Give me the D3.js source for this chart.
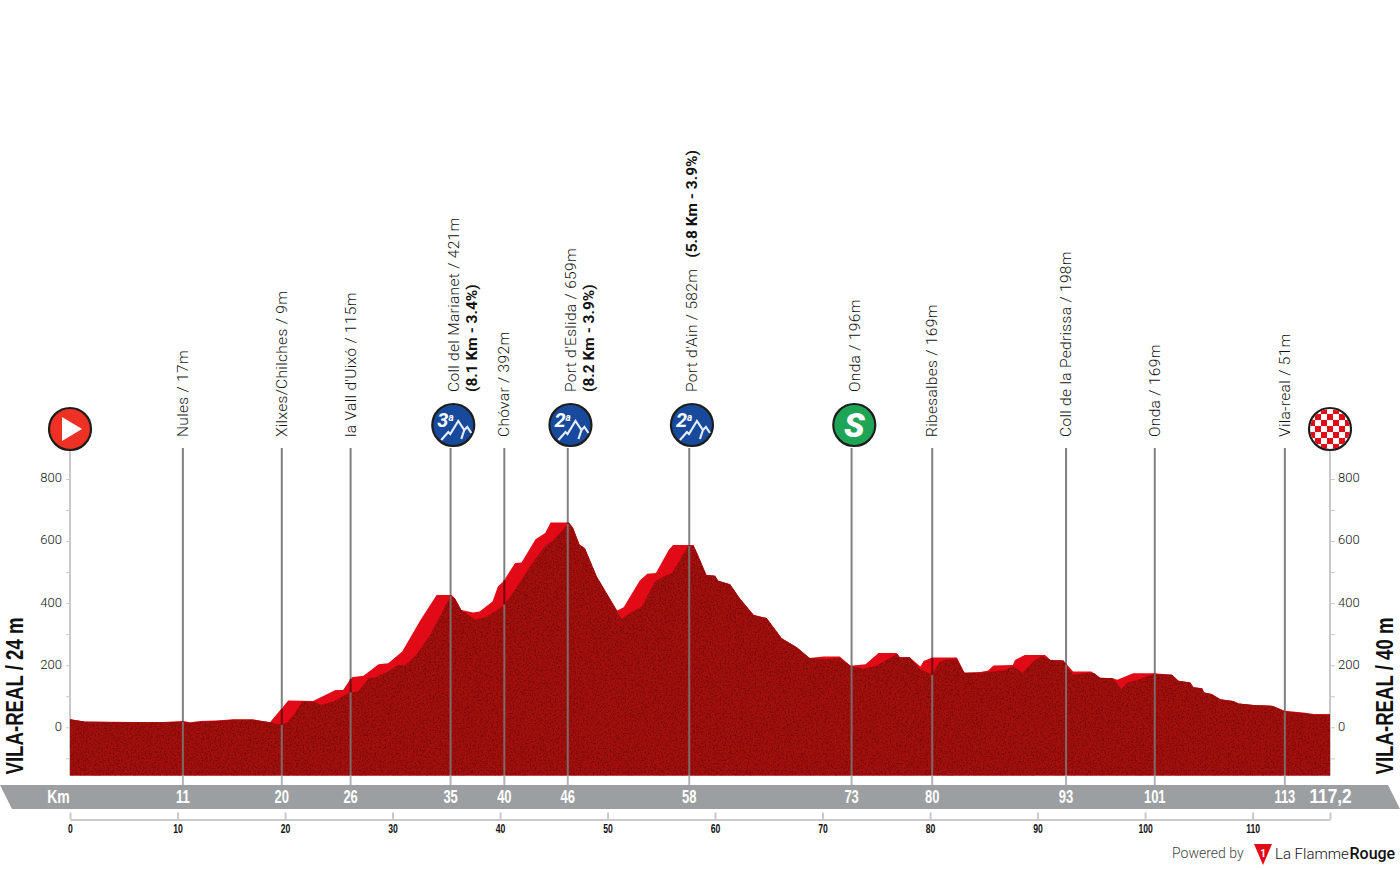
<!DOCTYPE html>
<html>
<head>
<meta charset="utf-8">
<title>Vila-real / Vila-real 117,2 km</title>
<script src="https://cdn.jsdelivr.net/npm/d3@7"></script>
<style>
  html, body { margin: 0; padding: 0; background: #fff; }
  svg { display: block; font-family: Roboto, sans-serif; }
  .narrow { font-family: "Liberation Sans", sans-serif; font-weight: 700; }
  .axis path, .axis line { stroke: #c9c9c9; }
</style>
</head>
<body>
<svg id="chart" width="1400" height="870"></svg>
<script>
// front face of the profile (km / metres)
const frontKm = [0,1.4,5.9,8.7,10.5,11.2,12.1,13.6,15.2,17,18.6,19.7,20.3,20.9,21.6,22.6,23.4,24.5,26,26.8,27.8,28.4,29.6,30.5,31.2,32.2,33.5,34.4,35.4,35.8,36.4,37.7,38.8,40.3,41.4,42.8,44.2,44.8,45.9,46.4,46.8,47.4,47.9,49,50.2,51.3,52.1,53.2,54.4,55.2,56,57.5,58,58.4,59.2,60,60.3,61.4,62.3,63.6,64.8,66.2,67.6,68.8,70.1,71.6,72.6,73.8,75,76.9,77.2,78.1,79.1,80.2,80.9,81.7,82.5,83.2,84.7,86.8,87.8,88.6,89.6,90.4,91.2,92.4,93.3,94.7,95.3,95.8,97,97.8,98.4,99.5,100.8,102.5,103.1,104.2,104.5,105.3,105.5,106.2,107,108.2,108.7,110.1,111.9,113,114.9,115.7,117.2];
const frontM = [26,18,16,16,18,14,17,20,24,24,16,8,18,45,83,83,72,83,112,115,158,161,180,201,201,233,298,357,424,416,378,346,357,391,443,518,583,599,637,660,642,588,577,486,416,348,368,389,470,486,497,585,585,556,491,488,472,461,416,362,352,287,258,223,219,223,198,188,198,235,226,226,187,169,212,219,219,176,176,183,196,176,212,230,217,215,169,176,174,160,158,123,144,155,172,169,150,144,129,126,112,107,90,85,77,72,69,51,45,40,40];

// bright top face (only the stretches where it differs from the front really matter)
const topKm = [0,1.4,5.9,8.7,10.5,11.2,12.1,13.6,15.2,17,18.6,19.7,20.3,22.6,24.7,25.4,26.2,27.3,28.7,29.6,30.9,32.6,34.1,35.5,35.8,36.4,37.5,38.1,39.3,39.8,40.3,41.4,42,43.3,44.2,44.7,46.4,46.8,47.4,47.9,49,50.2,50.9,51.5,53,53.7,54.5,55.7,56.1,58,58.4,59.2,60,60.3,61.4,62.3,63.6,64.8,66.2,67.6,68.8,70.1,71.6,72.6,74,75.2,76.9,77.2,78.1,79.1,79.4,80.2,82.5,83.2,84.7,85.4,85.9,87.7,87.9,88.8,90.7,91.2,92.4,93.3,95,95.8,97,97.4,98.9,100.8,102.5,103.1,104.2,104.5,105.3,105.5,106.2,107,108.2,108.7,110.1,111.9,113,114.9,115.7,117.2];
const topM = [26,19,17,17,20,16,20,22,26,26,16,61,86,85,120,120,161,166,203,206,244,346,426,426,416,378,370,373,405,454,470,529,531,606,626,660,660,642,588,577,486,416,376,387,473,495,497,572,587,587,556,491,488,472,461,416,362,352,287,258,223,228,228,198,203,239,239,226,226,196,214,225,225,176,178,183,199,201,217,233,233,217,215,180,180,160,158,153,174,174,169,150,144,129,126,112,107,90,85,77,72,69,53,47,43,43];

// waypoints
const wpKm = [10.5,19.7,26.1,35.4,40.4,46.3,57.6,72.7,80.2,92.65,100.9,113];
const wpBand = ['11','20','26','35','40','46','58','73','80','93','101','113'];
const wpName = ['Nules / 17m','Xilxes/Chilches / 9m',"la Vall d'Uixó / 115m",'Coll del Marianet / 421m','Chóvar / 392m',"Port d'Eslida / 659m","Port d'Ain / 582m",'Onda / 196m','Ribesalbes / 169m','Coll de la Pedrissa / 198m','Onda / 169m','Vila-real / 51m'];
const wpClimb = ['', '', '', '(8.1 Km - 3.4%)', '', '(8.2 Km - 3.9%)', '(5.8 Km - 3.9%)', '', '', '', '', ''];
const wpIcon = ['', '', '', '3', '', '2', '2', 'S', '', '', '', ''];

const elevTicks = [-100,0,100,200,300,400,500,600,700,800];
const kmTicks = [0,10,20,30,40,50,60,70,80,90,100,110];
const totalKm = 117.2;
const floorM = -155;

const svg = d3.select('#chart');
const x = d3.scaleLinear().domain([0, totalKm]).range([70, 1330]);
const y = d3.scaleLinear().domain([0, 800]).range([727.3, 479]);

// speckle on the front face
const defs = svg.append('defs');
const f = defs.append('filter').attr('id', 'grain').attr('x', 0).attr('y', 0).attr('width', 1).attr('height', 1)
	.attr('color-interpolation-filters', 'sRGB');
f.append('feTurbulence').attr('type', 'fractalNoise').attr('baseFrequency', 0.6).attr('numOctaves', 3).attr('seed', 4).attr('result', 'n');
f.append('feColorMatrix').attr('in', 'n').attr('type', 'matrix')
	.attr('values', '0 0 0 0 0.3  0 0 0 0 0  0 0 0 0 0  1.3 0 0 0 -0.55').attr('result', 'spots');
f.append('feComposite').attr('in', 'spots').attr('in2', 'SourceAlpha').attr('operator', 'in').attr('result', 'cut');
const fm = f.append('feMerge');
fm.append('feMergeNode').attr('in', 'SourceGraphic');
fm.append('feMergeNode').attr('in', 'cut');

// grey km band
svg.append('polygon').attr('fill', '#9c9fa1')
	.attr('points', [[0, 785], [1388, 785], [1400, 809], [12, 809]].join(' '));

// elevation axes
const fmtElev = (d) => (d % 200 === 0 && d >= 0 ? d : '');
const axisL = svg.append('g').attr('class', 'axis').attr('transform', `translate(${x(0)},0)`)
	.call(d3.axisLeft(y).tickValues(elevTicks).tickSize(4).tickPadding(4).tickFormat(fmtElev));
const axisR = svg.append('g').attr('class', 'axis').attr('transform', `translate(${x(totalKm)},0)`)
	.call(d3.axisRight(y).tickValues(elevTicks).tickSize(5).tickPadding(3).tickFormat(fmtElev));
[axisL, axisR].forEach((a) => {
	a.select('.domain').remove();
	a.selectAll('text').attr('font-family', 'Roboto').attr('font-size', 13).attr('font-weight', 300).attr('fill', '#111').attr('dy', '0.22em');
	a.append('line').attr('y1', 447).attr('y2', y(floorM)).attr('stroke', '#c9c9c9').attr('stroke-width', 2);
});

// profile
const topArea = d3.area().x((d) => x(d[0])).y0(y(floorM)).y1((d) => y(d[1]));
svg.append('path').datum(d3.zip(topKm, topM)).attr('d', topArea).attr('fill', '#e30a17');
svg.append('path').datum(d3.zip(frontKm, frontM)).attr('d', topArea).attr('fill', '#a3100d').attr('filter', 'url(#grain)');

// waypoint lines: grey above and through the front, dark over the top face, light under the profile
const topAt = d3.scaleLinear().domain(topKm).range(topM);
const frontAt = d3.scaleLinear().domain(frontKm).range(frontM);
const lines = svg.append('g').selectAll('g').data(wpKm).enter().append('g');
lines.append('line').attr('x1', x).attr('x2', x).attr('y1', 448).attr('y2', (d) => y(topAt(d)))
	.attr('stroke', '#808080').attr('stroke-width', 2);
lines.append('line').attr('x1', x).attr('x2', x).attr('y1', (d) => y(topAt(d))).attr('y2', (d) => y(frontAt(d)))
	.attr('stroke', '#6d0a10').attr('stroke-width', 2);
lines.append('line').attr('x1', x).attr('x2', x).attr('y1', (d) => y(frontAt(d))).attr('y2', y(floorM))
	.attr('stroke', '#7f6a68').attr('stroke-width', 2);
lines.append('line').attr('x1', x).attr('x2', x).attr('y1', y(floorM)).attr('y2', 785)
	.attr('stroke', '#b4b4b4').attr('stroke-width', 2);

// waypoint labels
const labels = svg.append('g').selectAll('text').data(wpKm).enter().append('text')
	.attr('transform', (d, i) => {
		const low = wpIcon[i] !== '';
		return `translate(${x(d) + (low ? 8 : 5)},${low ? 392 : 437}) rotate(-90)`;
	})
	.attr('font-size', 15.5).attr('font-weight', 300).attr('letter-spacing', 0.32).attr('fill', '#111');
labels.append('tspan').text((d, i) => wpName[i]);
labels.filter((d, i) => i === 6).append('tspan').attr('dx', 11).attr('font-weight', 700).attr('letter-spacing', 0).text(() => wpClimb[6]);
svg.append('g').selectAll('text').data(wpKm.filter((d, i) => i === 3 || i === 5)).enter().append('text')
	.attr('transform', (d) => `translate(${x(d) + 26},392) rotate(-90)`)
	.attr('font-size', 15.5).attr('font-weight', 700).attr('fill', '#111')
	.text((d, i) => wpClimb[i === 0 ? 3 : 5]);

// band labels, squeezed sideways to get the condensed look
const bandText = (g, t, px, size, sx) => g.append('text').attr('class', 'narrow')
	.attr('transform', `translate(${px},803) scale(${sx},1)`)
	.attr('text-anchor', 'middle').attr('font-size', size).attr('fill', '#fff').text(t);
const band = svg.append('g');
bandText(band, 'Km', 58.5, 18, 0.78);
wpKm.forEach((d, i) => bandText(band, wpBand[i], x(d), 18, 0.72));
bandText(band, '117,2', 1330.5, 20, 0.86);

// km axis
const axisB = svg.append('g').attr('class', 'axis').attr('transform', 'translate(0,819.5)')
	.call(d3.axisBottom(x).tickValues(kmTicks.concat([totalKm])).tickSizeInner(-7).tickSizeOuter(0).tickPadding(5)
		.tickFormat((d) => (d === totalKm ? '' : d)));
axisB.selectAll('line').attr('stroke-width', 2);
axisB.select('.domain').attr('stroke-width', 2);
axisB.selectAll('text').attr('class', 'narrow').attr('font-size', 12).attr('fill', '#111').attr('transform', 'scale(0.72,1)');

// start / finish names
[[22.5, 'VILA-REAL / 24 m'], [1393, 'VILA-REAL / 40 m']].forEach((d) => {
	svg.append('text').attr('class', 'narrow').attr('transform', `translate(${d[0]},774.5) rotate(-90)`)
		.attr('font-size', 23).attr('textLength', 157).attr('lengthAdjust', 'spacingAndGlyphs').attr('fill', '#111').text(d[1]);
});

// icons
const ring = (g, fill) => g.append('circle').attr('r', 21).attr('fill', fill).attr('stroke', '#1d1d1b').attr('stroke-width', 2.2);

const start = svg.append('g').attr('transform', `translate(${x(0)},429)`);
ring(start, '#ee3124');
start.append('path').attr('d', 'M-8,-12 L12,0 L-8,12 Z').attr('fill', '#fff');

const finish = svg.append('g').attr('transform', `translate(${x(totalKm)},429)`);
ring(finish, '#fff');
defs.append('clipPath').attr('id', 'finishClip').append('circle').attr('r', 19.9);
const cells = d3.range(-5, 5);
finish.append('g').attr('clip-path', 'url(#finishClip)').selectAll('rect')
	.data(d3.cross(cells, cells).filter((c) => (c[0] + c[1] + 20) % 2 === 0)).enter().append('rect')
	.attr('x', (c) => c[0] * 6 + 3).attr('y', (c) => c[1] * 6 + 3).attr('width', 6).attr('height', 6).attr('fill', '#e30a17');

wpKm.forEach((d, i) => {
	if (wpIcon[i] === '') { return; }
	const g = svg.append('g').attr('transform', `translate(${x(d) + 2.7},425)`);
	if (wpIcon[i] === 'S') {
		ring(g, '#1ea455');
		g.append('text').attr('text-anchor', 'middle').attr('y', 12).attr('font-size', 34).attr('font-weight', 900)
			.attr('font-style', 'italic').attr('fill', '#fff').text('S');
	} else {
		ring(g, '#174a9c');
		const t = g.append('text').attr('x', -16).attr('y', 2).attr('font-size', 20).attr('font-weight', 700)
			.attr('font-style', 'italic').attr('fill', '#fff');
		t.append('tspan').text(wpIcon[i]);
		t.append('tspan').attr('font-size', 10).attr('dy', -6).text('a');
		g.append('path').attr('d', 'M-12,15 L-5,7 L-3,9 L5,-4 L11,5 L14,2 L18,8 M11,5 L8,14')
			.attr('fill', 'none').attr('stroke', '#e6ebf5').attr('stroke-width', 2.2);
	}
});

// credit
svg.append('text').attr('x', 1172).attr('y', 858).attr('font-size', 14).attr('font-weight', 300).attr('fill', '#444').text('Powered by');
svg.append('path').attr('d', 'M1254,844 L1272,844 L1263,865 Z').attr('fill', '#e30a17');
svg.append('text').attr('x', 1263).attr('y', 857).attr('text-anchor', 'middle').attr('font-size', 10).attr('font-weight', 700).attr('fill', '#fff').text('1');
svg.append('text').attr('x', 1275).attr('y', 859).attr('font-size', 15).attr('font-weight', 300).attr('fill', '#111').text('La Flamme');
svg.append('text').attr('x', 1349.5).attr('y', 859).attr('font-size', 16).attr('font-weight', 500).attr('fill', '#111').text('Rouge');
</script>
</body>
</html>
